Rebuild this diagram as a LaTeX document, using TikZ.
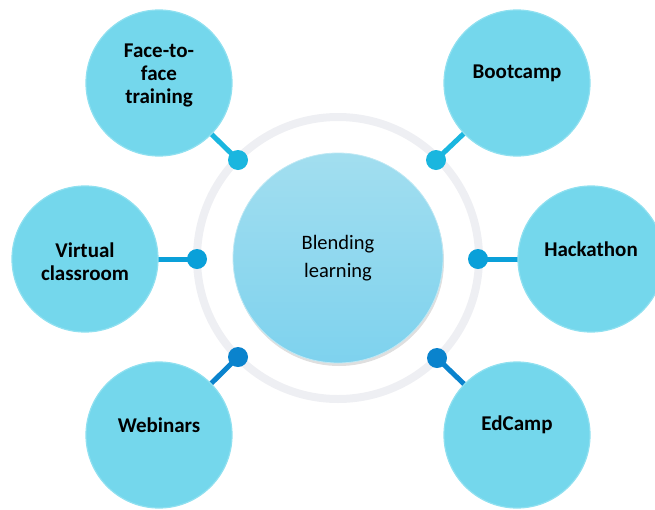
\documentclass[tikz,border=0pt]{standalone}
\usepackage{fontspec}
\setmainfont{Carlito}
\usetikzlibrary{shadows}
\definecolor{outerfill}{HTML}{74D7EC}
\definecolor{outerrim}{HTML}{8FE0F0}
\definecolor{ringgray}{HTML}{EEEFF3}
\definecolor{hubtop}{HTML}{A2DEEF}
\definecolor{hubbot}{HTML}{7ED2EE}
\definecolor{dottop}{HTML}{1AB6DF}
\definecolor{dotmid}{HTML}{0AA0D9}
\definecolor{dotbot}{HTML}{0A83CD}
\pgfdeclarelayer{bg}
\pgfdeclarelayer{mid}
\pgfsetlayers{bg,mid,main}
\begin{document}
\begin{tikzpicture}[x=1pt,y=-1pt,
  outer/.style={circle, minimum size=146pt, inner sep=0pt, fill=outerfill, draw=outerrim, line width=1.2pt},
  lbl/.style={font=\bfseries\fontsize{21}{23}\selectfont, align=center, text=black},
  dotc/.style={circle, minimum size=20pt, inner sep=0pt, fill=#1},
  link/.style={line width=5pt, draw=#1},
  hubstyle/.style={circle, minimum size=210pt, inner sep=0pt, top color=hubtop, bottom color=hubbot,
    draw=hubtop!70!white, line width=0.8pt,
    drop shadow={shadow xshift=1pt, shadow yshift=-3pt, opacity=0.25, fill=gray},
    font=\fontsize{20.5}{28}\selectfont, align=center}
]
\useasboundingbox (0,0) rectangle (655,509);
\clip (0,0) rectangle (655,509);

% outer circles
\node[outer] (o1) at (159,83) {};
\node[outer] (o2) at (85,259) {};
\node[outer] (o3) at (159,435) {};
\node[outer] (o4) at (517,83) {};
\node[outer] (o5) at (591,259) {};
\node[outer] (o6) at (517,435) {};

\node[lbl] (t1) at (159,75) {Face-to-\\face\\training};
\node[lbl] (t2) at (85,262) {Virtual\\classroom};
\node[lbl] (t3) at (159,425) {Webinars};
\node[lbl] (t4) at (517,73) {Bootcamp};
\node[lbl] (t5) at (591,249) {Hackathon};
\node[lbl] (t6) at (517,425) {EdCamp};

% dots
\node[dotc=dottop] (d1) at (238,160) {};
\node[dotc=dotmid] (d2) at (197,259) {};
\node[dotc=dotbot] (d3) at (238,357) {};
\node[dotc=dottop] (d4) at (436,160) {};
\node[dotc=dotmid] (d5) at (478,259) {};
\node[dotc=dotbot] (d6) at (437,358) {};

\begin{pgfonlayer}{mid}
\draw[link=dottop] (d1.center) -- (o1.center);
\draw[link=dotmid] (d2.center) -- (o2.center);
\draw[link=dotbot] (d3.center) -- (o3.center);
\draw[link=dottop] (d4.center) -- (o4.center);
\draw[link=dotmid] (d5.center) -- (o5.center);
\draw[link=dotbot] (d6.center) -- (o6.center);
\end{pgfonlayer}

\begin{pgfonlayer}{bg}
\coordinate (c) at (338,258);
\draw[ringgray, line width=8pt] (c) circle[radius=141pt];
\node[hubstyle] (hub) at (c) {Blending\\learning};
\end{pgfonlayer}
\end{tikzpicture}
\end{document}
